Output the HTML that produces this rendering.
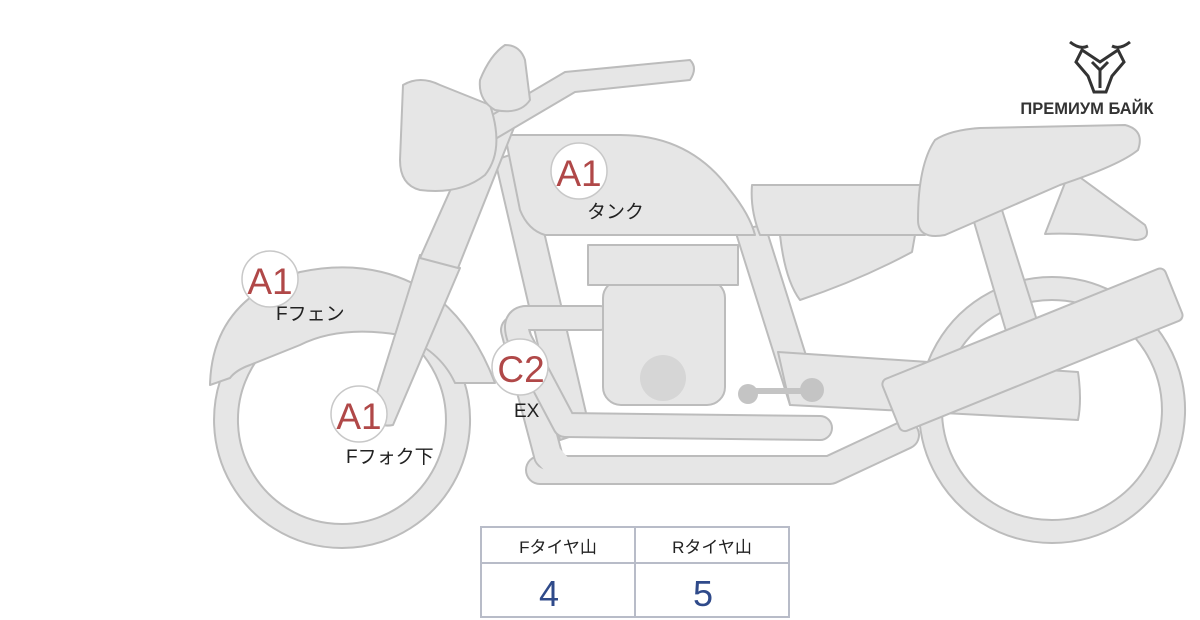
<!DOCTYPE html>
<html><head><meta charset="utf-8"><style>
html,body{margin:0;padding:0;background:#fff;}
svg{display:block}
</style></head><body>
<svg width="1200" height="620" viewBox="0 0 1200 620" xmlns="http://www.w3.org/2000/svg">
<g fill="#e6e6e6" stroke="#bcbcbc" stroke-width="2" stroke-linejoin="round">
<!-- rear wheel -->
<path fill-rule="evenodd" d="M1052 277 a133 133 0 1 0 0.1 0 Z M1052 300 a110 110 0 1 1 -0.1 0 Z"/>
<!-- front wheel -->
<path fill-rule="evenodd" d="M342 292 a128 128 0 1 0 0.1 0 Z M342 316 a104 104 0 1 1 -0.1 0 Z"/>
<!-- front fender -->
<path d="M210 385 Q212 300 300 272 Q380 255 440 300 Q475 330 495 383 L455 383 Q440 350 400 335 Q340 325 300 345 L250 365 Q236 370 230 378 Z"/>
<!-- rear fender -->
<path d="M1070 170 L1145 225 Q1152 240 1135 240 Q1080 232 1045 234 Z"/>
<!-- rear shock -->
<path d="M972 215 L1002 210 L1040 330 L1008 338 Z"/>
<!-- downtube / frame -->
<path d="M495 160 L525 150 L590 430 L560 440 Z"/>
<path d="M735 230 L765 225 L820 400 L790 405 Z"/>
<!-- swingarm -->
<path d="M778 352 L1078 372 Q1082 400 1078 420 L790 405 Z"/>
<!-- pipes -->
<g fill="none" stroke-linecap="round">
<path d="M540 470 L830 470 L905 435" stroke="#bcbcbc" stroke-width="30"/>
<path d="M540 470 L830 470 L905 435" stroke="#e6e6e6" stroke-width="26"/>
<path d="M515 330 L548 455" stroke="#bcbcbc" stroke-width="30"/>
<path d="M515 330 L548 455" stroke="#e6e6e6" stroke-width="26"/>
<path d="M548 455 L560 468" stroke="#e6e6e6" stroke-width="26"/>
<path d="M600 318 L525 318 Q512 320 520 340 L565 425 L820 428" stroke="#bcbcbc" stroke-width="26"/>
<path d="M600 318 L525 318 Q512 320 520 340 L565 425 L820 428" stroke="#e6e6e6" stroke-width="22"/>
</g>
<!-- engine -->
<rect x="603" y="280" width="122" height="125" rx="18"/>
<rect x="588" y="245" width="150" height="40"/>
<circle cx="663" cy="378" r="23" fill="#d6d6d6" stroke="none"/>
<!-- footpeg -->
<g fill="#c4c4c4" stroke="none"><circle cx="748" cy="394" r="10"/><circle cx="812" cy="390" r="12"/><rect x="748" y="388" width="64" height="6"/></g>
<!-- muffler -->
<rect x="880" y="322" width="305" height="56" rx="6" transform="rotate(-22 1032 350)"/>
<!-- side cover -->
<path d="M780 235 L915 235 L912 252 Q860 280 800 300 Q785 280 780 235 Z"/>
<!-- seat front -->
<path d="M752 185 L925 185 L925 235 L760 235 Q750 210 752 185 Z"/>
<!-- seat rear -->
<path d="M935 140 Q950 130 980 128 L1125 125 Q1145 130 1138 150 Q1120 165 1060 185 L945 235 Q918 240 918 220 Q918 165 935 140 Z"/>
<!-- tank -->
<path d="M505 135 L620 135 Q690 135 730 190 Q750 215 755 235 L545 235 Q528 230 520 210 Z"/>
<!-- fork -->
<path d="M370 415 L420 255 L460 268 L393 425 Q378 428 370 415 Z"/>
<path d="M420 258 L495 90 L525 100 L458 268 Z"/>
<!-- handlebar -->
<path d="M470 128 L565 72 L690 60 Q698 68 690 80 L575 92 L480 148 Z"/>
<!-- headlight -->
<path d="M403 85 Q420 75 440 85 L490 105 Q505 150 485 175 Q460 195 420 190 Q400 185 400 160 Z"/>
<!-- speedo -->
<path d="M480 80 Q490 55 505 45 Q520 45 525 60 L530 100 Q520 115 495 110 Q478 100 480 80 Z"/>
<!-- label circles -->
<g fill="#fff" stroke="#c8c8c8" stroke-width="1.5">
<circle cx="579" cy="171" r="28"/><circle cx="270" cy="279" r="28"/><circle cx="359" cy="414" r="28"/><circle cx="520" cy="367" r="28"/>
</g>
</g>
<g font-family="'Liberation Sans','Noto Sans CJK JP',sans-serif">
<g fill="#b04848" font-size="37" text-anchor="middle">
<text x="579" y="186">A1</text><text x="270" y="294">A1</text><text x="359" y="429">A1</text><text x="521" y="382">C2</text>
</g>
<g fill="#222" font-size="19">
<text x="587" y="218">タンク</text><text x="276" y="320">Fフェン</text><text x="346" y="463">Fフォク下</text><text x="514" y="417">EX</text>
</g>
<!-- table -->
<g fill="#fff" stroke="#b8bcc8" stroke-width="2">
<rect x="481" y="527" width="308" height="90"/>
<line x1="481" y1="563" x2="789" y2="563"/><line x1="635" y1="527" x2="635" y2="617"/>
</g>
<g fill="#222" font-size="17" text-anchor="middle"><text x="558" y="553">Fタイヤ山</text><text x="712" y="553">Rタイヤ山</text></g>
<g fill="#2f4a8a" font-size="36" text-anchor="middle"><text x="549" y="606">4</text><text x="703" y="606">5</text></g>
<!-- logo -->
<g fill="none" stroke="#333" stroke-width="3">
<path d="M1070 42 Q1080 50 1088 46 M1130 42 Q1120 50 1112 46"/>
<path d="M1082 50 L1100 62 L1118 50 L1124 62 L1112 76 L1106 92 L1094 92 L1088 76 L1076 62 Z"/>
<path d="M1092 62 L1100 70 L1108 62 M1100 70 L1100 88"/>
</g>
<text x="1087" y="114" font-size="16.5" font-weight="bold" fill="#333" text-anchor="middle">ПРЕМИУМ БАЙК</text>
</g>
</svg>
</body></html>
